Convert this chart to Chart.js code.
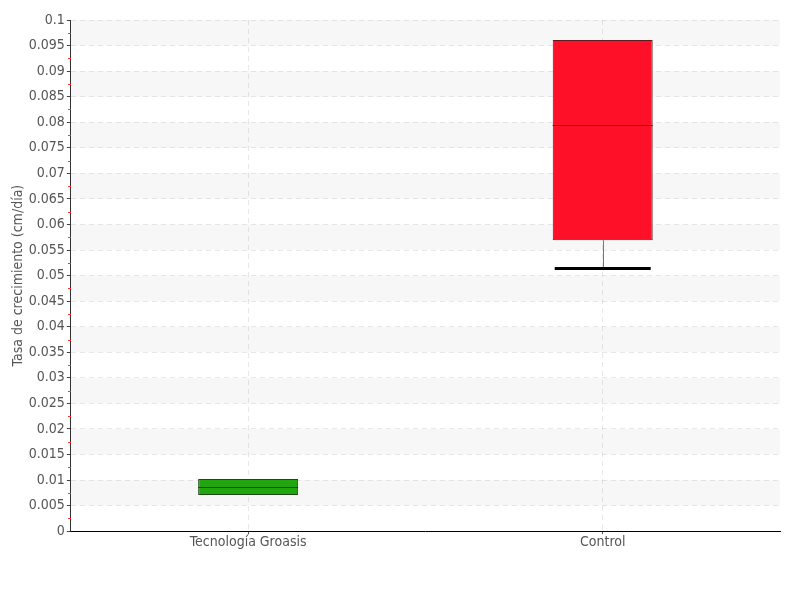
<!DOCTYPE html>
<html>
<head>
<meta charset="utf-8">
<script src="https://cdn.jsdelivr.net/npm/chart.js@4.4.0/dist/chart.umd.min.js"></script>
<style>
  body { margin: 0; background: #fff; }
  #wrap { width: 800px; height: 600px; }
</style>
</head>
<body>
<div id="wrap"><canvas id="myChart" width="800" height="600"></canvas></div>
<script>
const categories = ['Tecnología Groasis', 'Control'];
const q1 = [0.0071, 0.0569];
const median = [0.0086, 0.0794];
const q3 = [0.0102, 0.0961];
const whiskerLow = [0.0071, 0.0514];
const whiskerHigh = [0.0102, 0.0961];
const yTicks = ['0', '0.005', '0.01', '0.015', '0.02', '0.025', '0.03', '0.035', '0.04', '0.045', '0.05',
    '0.055', '0.06', '0.065', '0.07', '0.075', '0.08', '0.085', '0.09', '0.095', '0.1'];
const boxColors = ['#22a60f', '#ff1029'];
const boxBorders = ['#1d4a14', '#5e1a1e'];

const fontFamily = "'DejaVu Sans Condensed', 'Liberation Sans Narrow', sans-serif";

// bands, medians, whiskers and minor ticks
const boxExtras = {
    id: 'boxExtras',
    beforeDatasetsDraw(chart) {
        const ctx = chart.ctx;
        const y = chart.scales.y;
        const area = chart.chartArea;
        ctx.save();
        ctx.fillStyle = 'rgba(0,0,0,0.03)';
        for (let i = 1; i < yTicks.length; i += 2) {
            const top = y.getPixelForValue(Number(yTicks[i + 1]));
            const bottom = y.getPixelForValue(Number(yTicks[i]));
            ctx.fillRect(area.left, top, area.right - area.left, bottom - top);
        }
        ctx.restore();
    },
    afterDatasetsDraw(chart) {
        const ctx = chart.ctx;
        const y = chart.scales.y;
        const meta = chart.getDatasetMeta(0);
        ctx.save();
        meta.data.forEach((bar, i) => {
            const left = bar.x - bar.width / 2;
            const right = bar.x + bar.width / 2;
            // lower whisker
            if (whiskerLow[i] < q1[i]) {
                ctx.strokeStyle = '#777';
                ctx.lineWidth = 1;
                ctx.beginPath();
                ctx.moveTo(Math.round(bar.x) + 0.5, y.getPixelForValue(q1[i]));
                ctx.lineTo(Math.round(bar.x) + 0.5, y.getPixelForValue(whiskerLow[i]));
                ctx.stroke();
                ctx.strokeStyle = '#000';
                ctx.lineWidth = 3;
                ctx.beginPath();
                ctx.moveTo(left + 2, y.getPixelForValue(whiskerLow[i]));
                ctx.lineTo(right - 2, y.getPixelForValue(whiskerLow[i]));
                ctx.stroke();
            }
            if (whiskerHigh[i] > q3[i]) {
                ctx.strokeStyle = '#777';
                ctx.lineWidth = 1;
                ctx.beginPath();
                ctx.moveTo(Math.round(bar.x) + 0.5, y.getPixelForValue(q3[i]));
                ctx.lineTo(Math.round(bar.x) + 0.5, y.getPixelForValue(whiskerHigh[i]));
                ctx.stroke();
                ctx.strokeStyle = '#000';
                ctx.lineWidth = 3;
                ctx.beginPath();
                ctx.moveTo(left + 2, y.getPixelForValue(whiskerHigh[i]));
                ctx.lineTo(right - 2, y.getPixelForValue(whiskerHigh[i]));
                ctx.stroke();
            }
            // median
            ctx.strokeStyle = boxBorders[i];
            ctx.lineWidth = 1;
            const my = Math.round(y.getPixelForValue(median[i])) + 0.5;
            ctx.beginPath();
            ctx.moveTo(left, my);
            ctx.lineTo(right, my);
            ctx.stroke();
        });
        ctx.restore();
    },
    afterDraw(chart) {
        const ctx = chart.ctx;
        const y = chart.scales.y;
        const x0 = Math.round(chart.chartArea.left);
        ctx.save();
        ctx.strokeStyle = '#ff3030';
        ctx.lineWidth = 1;
        for (let i = 0; i < yTicks.length - 1; i++) {
            const v = (Number(yTicks[i]) + Number(yTicks[i + 1])) / 2;
            const py = Math.round(y.getPixelForValue(v)) + 0.5;
            ctx.beginPath();
            ctx.moveTo(x0 - 3, py);
            ctx.lineTo(x0, py);
            ctx.stroke();
        }
        ctx.restore();
    }
};

let chart = document.getElementById('myChart').getContext('2d');

let myChart = new Chart(chart, {
    type: 'bar',
    data: {
        labels: categories,
        datasets: [
            {
                label: 'Tasa de crecimiento',
                data: categories.map((c, i) => [q1[i], q3[i]]),
                backgroundColor: boxColors,
                borderColor: boxBorders,
                borderWidth: 1,
                borderSkipped: false,
                categoryPercentage: 1,
                barPercentage: 0.282
            }
        ]
    },
    options: {
        responsive: false,
        animation: false,
        layout: { padding: { top: 20, right: 20, bottom: 49, left: 10 } },
        plugins: {
            legend: { display: false },
            tooltip: { enabled: false }
        },
        scales: {
            x: {
                grid: {
                    offset: false,
                    color: 'rgba(0,0,0,0.09)',
                    tickColor: '#555',
                    tickLength: 3,
                    drawTicks: true
                },
                border: { color: '#000', width: 1, dash: [5, 4] },
                ticks: {
                    color: '#555',
                    font: { family: fontFamily, size: 14 },
                    padding: 0
                }
            },
            y: {
                min: 0,
                max: 0.1,
                afterBuildTicks(axis) {
                    axis.ticks = yTicks.map(t => ({ value: Number(t) }));
                },
                grid: {
                    color: 'rgba(0,0,0,0.09)',
                    tickColor: '#444',
                    tickLength: 4
                },
                border: { color: '#333', width: 1, dash: [5, 4] },
                ticks: {
                    color: '#555',
                    font: { family: fontFamily, size: 14 },
                    padding: 2,
                    callback: (v, i) => yTicks[i]
                },
                title: {
                    display: true,
                    text: 'Tasa de crecimiento (cm/día)',
                    color: '#555',
                    font: { family: fontFamily, size: 14 },
                    padding: 0
                }
            }
        }
    },
    plugins: [boxExtras]
});
</script>
</body>
</html>
